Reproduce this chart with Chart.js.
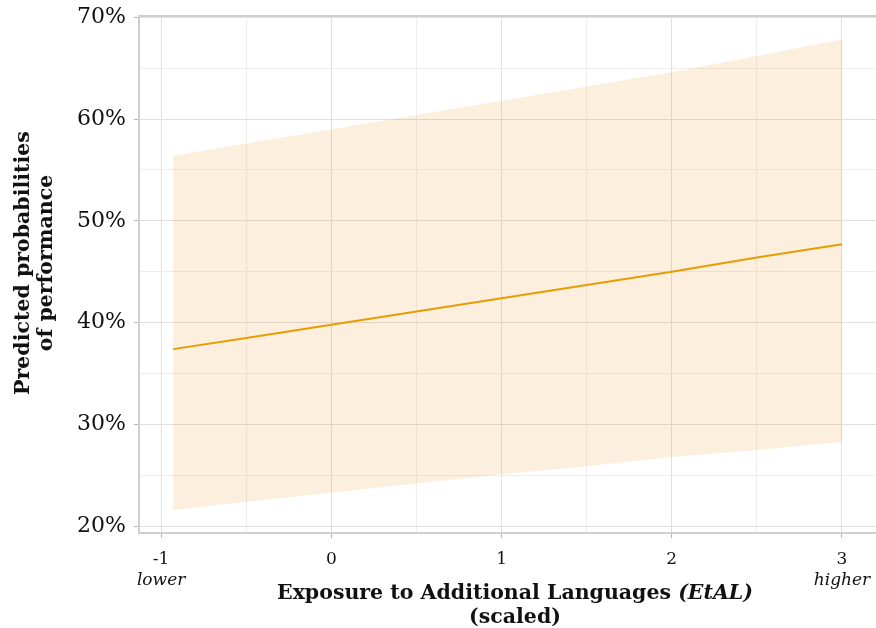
<!DOCTYPE html>
<html>
<head>
<meta charset="utf-8">
<script src="https://cdn.jsdelivr.net/npm/chart.js@4.4.0/dist/chart.umd.min.js"></script>
<style>
  html, body { margin: 0; padding: 0; background: #fff; }
  canvas { display: block; }
</style>
</head>
<body>
<canvas id="chart" width="876" height="628"></canvas>
<script>
// values
const xValues = [-0.93, -0.5, 0, 0.5, 1, 1.5, 2, 2.5, 3];
const fitValues = [37.4, 38.5, 39.8, 41.1, 42.4, 43.7, 45.0, 46.4, 47.7];
const lowerValues = [21.6, 22.4, 23.3, 24.2, 25.1, 25.9, 26.8, 27.5, 28.3];
const upperValues = [56.4, 57.6, 59.0, 60.4, 61.8, 63.2, 64.6, 66.2, 67.8];

const xTicks = [-1, -0.5, 0, 0.5, 1, 1.5, 2, 2.5, 3];
const xTickLabels = ['-1', '', '0', '', '1', '', '2', '', '3'];
const xEndLabels = { '-1': 'lower', '3': 'higher' };
const yTicks = [20, 25, 30, 35, 40, 45, 50, 55, 60, 65, 70];

const ORANGE = '#E69F00';
const SERIF = '"DejaVu Serif", "Liberation Serif", serif';

const toPoints = (vals) => xValues.map((x, i) => ({ x, y: vals[i] }));
const isMajorX = (v) => Number.isInteger(v);
const isMajorY = (v) => v % 10 === 0;

// titles, end labels and top border
const decorPlugin = {
    id: 'decor',
    afterDraw(chart) {
        const ctx = chart.ctx;
        const area = chart.chartArea;
        const xs = chart.scales.x;
        ctx.save();

        // top border
        ctx.strokeStyle = '#cfcfcf';
        ctx.lineWidth = 2;
        ctx.beginPath();
        ctx.moveTo(area.left, area.top);
        ctx.lineTo(area.right, area.top);
        ctx.stroke();

        // lower / higher under the end ticks
        ctx.fillStyle = '#111';
        ctx.font = 'italic 17px ' + SERIF;
        ctx.textAlign = 'center';
        ctx.textBaseline = 'alphabetic';
        Object.keys(xEndLabels).forEach(k => {
            ctx.fillText(xEndLabels[k], xs.getPixelForValue(Number(k)), 585);
        });

        // x title, with (EtAL) in bold italic
        const part1 = 'Exposure to Additional Languages ';
        const part2 = '(EtAL)';
        const f1 = 'bold 20.5px ' + SERIF;
        const f2 = 'italic bold 20.5px ' + SERIF;
        ctx.font = f1;
        const w1 = ctx.measureText(part1).width;
        ctx.font = f2;
        const w2 = ctx.measureText(part2).width;
        const cx = 515;
        let startX = cx - (w1 + w2) / 2;
        ctx.textAlign = 'left';
        ctx.font = f1;
        ctx.fillText(part1, startX, 599);
        ctx.font = f2;
        ctx.fillText(part2, startX + w1, 599);
        ctx.font = f1;
        ctx.textAlign = 'center';
        ctx.fillText('(scaled)', cx, 623);

        // y title
        ctx.translate(0, 263);
        ctx.rotate(-Math.PI / 2);
        ctx.font = 'bold 20.5px ' + SERIF;
        ctx.fillText('Predicted probabilities', 0, 29);
        ctx.fillText('of performance', 0, 52);

        ctx.restore();
    }
};

new Chart(document.getElementById('chart'), {
    type: 'line',
    data: {
        datasets: [
            {
                label: 'upper',
                data: toPoints(upperValues),
                borderWidth: 0,
                pointRadius: 0,
                backgroundColor: 'rgba(235, 148, 28, 0.15)',
                fill: '+1'
            },
            {
                label: 'lower',
                data: toPoints(lowerValues),
                borderWidth: 0,
                pointRadius: 0,
                fill: false
            },
            {
                label: 'fit',
                data: toPoints(fitValues),
                borderColor: ORANGE,
                borderWidth: 2,
                pointRadius: 0,
                fill: false,
                tension: 0
            }
        ]
    },
    options: {
        responsive: false,
        animation: false,
        devicePixelRatio: 1,
        layout: { padding: { left: 0, top: 16, right: 0, bottom: 0 } },
        plugins: {
            legend: { display: false },
            tooltip: { enabled: false }
        },
        scales: {
            x: {
                type: 'linear',
                min: -1.13,
                max: 3.2,
                afterFit: (s) => { s.height = 95; s.paddingLeft = 0; s.paddingRight = 0; },
                afterBuildTicks: (s) => { s.ticks = xTicks.map(v => ({ value: v })); },
                border: { color: '#cfcfcf', width: 2 },
                grid: {
                    color: (c) => isMajorX(c.tick.value) ? '#e0e0e0' : '#eeeeee',
                    tickColor: (c) => isMajorX(c.tick.value) ? '#b5b5b5' : 'rgba(0,0,0,0)',
                    tickLength: 5
                },
                ticks: {
                    autoSkip: false,
                    maxRotation: 0,
                    padding: 11,
                    color: '#111',
                    font: { family: SERIF, size: 17 },
                    callback: (v) => xTickLabels[xTicks.indexOf(v)] ?? ''
                }
            },
            y: {
                type: 'linear',
                min: 19.34,
                max: 70.12,
                afterFit: (s) => { s.width = 139; s.paddingTop = 0; s.paddingBottom = 0; },
                afterBuildTicks: (s) => { s.ticks = yTicks.map(v => ({ value: v })); },
                border: { color: '#cfcfcf', width: 2 },
                grid: {
                    color: (c) => isMajorY(c.tick.value) ? '#e0e0e0' : '#eeeeee',
                    tickColor: (c) => isMajorY(c.tick.value) ? '#b5b5b5' : 'rgba(0,0,0,0)',
                    tickLength: 5
                },
                ticks: {
                    autoSkip: false,
                    padding: 8,
                    color: '#111',
                    font: { family: SERIF, size: 22 },
                    callback: (v) => isMajorY(v) ? v + '%' : ''
                }
            }
        }
    },
    plugins: [decorPlugin]
});
</script>
</body>
</html>
